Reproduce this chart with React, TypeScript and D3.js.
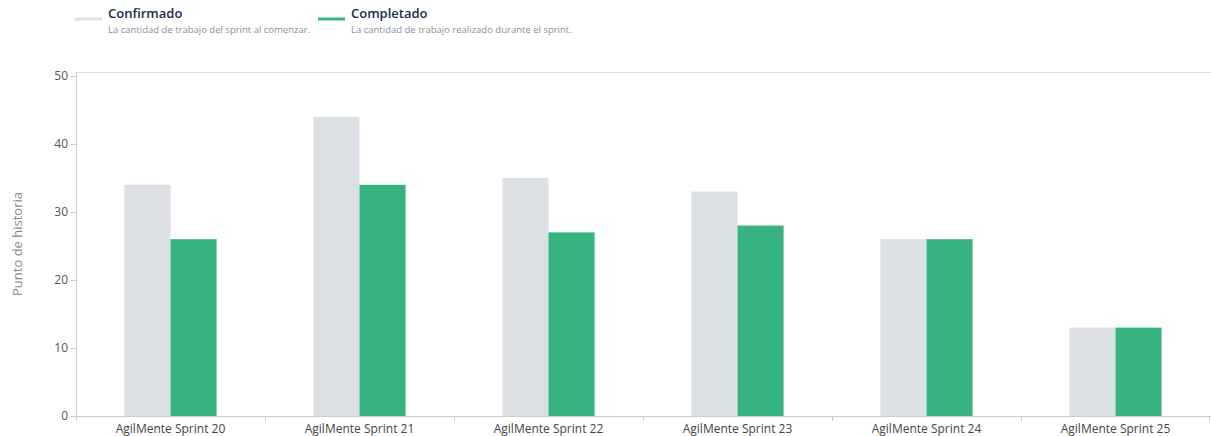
import React from "react";
import * as d3 from "d3";

const categories = [
  "AgilMente Sprint 20",
  "AgilMente Sprint 21",
  "AgilMente Sprint 22",
  "AgilMente Sprint 23",
  "AgilMente Sprint 24",
  "AgilMente Sprint 25",
];
const committed = [34, 44, 35, 33, 26, 13];
const completed = [26, 34, 27, 28, 26, 13];
const yTicks = [0, 10, 20, 30, 40, 50];
const seriesNames = ["Confirmado", "Completado"];
const seriesDescs = [
  "La cantidad de trabajo del sprint al comenzar.",
  "La cantidad de trabajo realizado durante el sprint.",
];
const seriesColors = ["#dcdfe4", "#36b37e"];

const W = 1211;
const H = 436;
const M = { left: 76, right: 1, top: 72, bottom: 20 };
const Y_TOP = 76;
const FONT = "'Open Sans', 'Noto Sans', sans-serif";

export default function App() {
  const x = d3
    .scaleBand<string>()
    .domain(categories)
    .range([M.left, W - M.right])
    .paddingInner(0)
    .paddingOuter(0);
  const inner = d3
    .scaleBand<number>()
    .domain([0, 1])
    .range([0, x.bandwidth()])
    .paddingOuter(1.05)
    .paddingInner(0);
  const y = d3.scaleLinear().domain([0, 50]).range([H - M.bottom, Y_TOP]);
  const series = [committed, completed];
  const legendX = [75, 318];

  return (
    <svg
      width={W}
      height={H}
      style={{ position: "absolute", left: 0, top: 0, fontFamily: FONT }}
    >
      <rect width={W} height={H} fill="#fff" />
      {/* legend */}
      {seriesNames.map((n, i) => (
        <g key={n} transform={`translate(${legendX[i]},0)`}>
          <line x1={0} x2={27} y1={19} y2={19} stroke={seriesColors[i]} strokeWidth={3} />
          <text x={33} y={18} fontSize={13} fontWeight={600} fill="#172b4d">
            {n}
          </text>
          <text x={33} y={33} fontSize={9.5} fill="#8a8f99">
            {seriesDescs[i]}
          </text>
        </g>
      ))}
      {/* frame */}
      <line x1={M.left} x2={W} y1={M.top + 0.5} y2={M.top + 0.5} stroke="#dcdcdc" />
      <line x1={M.left + 0.5} x2={M.left + 0.5} y1={M.top} y2={H - M.bottom} stroke="#cccccc" />
      {/* y ticks */}
      {yTicks.map((t) => (
        <g key={t}>
          <line
            x1={M.left - 5}
            x2={M.left}
            y1={Math.round(y(t)) + 0.5}
            y2={Math.round(y(t)) + 0.5}
            stroke="#cccccc"
          />
          <text
            x={M.left - 8}
            y={y(t)}
            dy="0.35em"
            textAnchor="end"
            fontSize={12}
            fill="#555"
          >
            {t}
          </text>
        </g>
      ))}
      <text
        transform={`translate(22,${(M.top + H - M.bottom) / 2}) rotate(-90)`}
        textAnchor="middle"
        fontSize={13}
        fill="#8a8a8a"
      >
        Punto de historia
      </text>
      {/* bars */}
      {categories.map((c, ci) =>
        series.map((s, si) => (
          <rect
            key={c + si}
            x={(x(c) as number) + (inner(si) as number)}
            y={y(s[ci])}
            width={inner.bandwidth()}
            height={y(0) - y(s[ci])}
            fill={seriesColors[si]}
          />
        ))
      )}
      {/* x axis */}
      <line x1={M.left} x2={W} y1={y(0) + 0.5} y2={y(0) + 0.5} stroke="#cccccc" />
      {categories.map((c) => (
        <g key={c}>
          <line
            x1={Math.round(x(c) as number) + 0.5}
            x2={Math.round(x(c) as number) + 0.5}
            y1={y(0)}
            y2={y(0) + 5}
            stroke="#cccccc"
          />
          <text
            x={(x(c) as number) + x.bandwidth() / 2}
            y={y(0) + 17}
            textAnchor="middle"
            fontSize={12}
            fill="#444"
          >
            {c}
          </text>
        </g>
      ))}
      <line x1={W - 1.5} x2={W - 1.5} y1={y(0)} y2={y(0) + 5} stroke="#cccccc" />
    </svg>
  );
}
